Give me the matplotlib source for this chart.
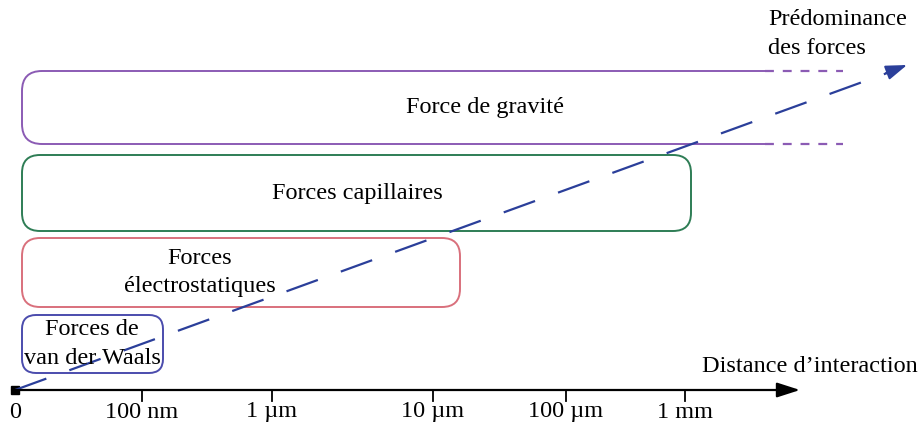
import matplotlib.pyplot as plt
from matplotlib.patches import FancyBboxPatch, Rectangle

plt.rcParams['font.family'] = ['Liberation Serif', 'DejaVu Serif']

# Axe des distances (positions en pixels sur le schéma)
tick_labels = ['0', '100 nm', '1 µm', '10 µm', '100 µm', '1 mm']
tick_pos = [15, 142, 272, 433, 566, 685]

# Domaines des forces
forces = ['Forces de\nvan der Waals', 'Forces\nélectrostatiques',
          'Forces capillaires', 'Force de gravité']
x_debut = [22, 22, 22, 22]
x_fin = [163, 460, 691, 765]
y_bas = [56, 122, 198, 285]
y_haut = [114, 191, 274, 358]
texte_x = [92, 200, 357, 485]
couleurs = ['#4b4cad', '#d9707c', '#2e7d55', '#8b5bb4']
arrondi = [14, 18, 18, 20]

fs = 17.5

fig = plt.figure(figsize=(9.2, 4.29), dpi=100)
ax = fig.add_axes([0, 0, 1, 1])
ax.set_xlim(0, 920)
ax.set_ylim(0, 429)
ax.axis('off')

for i in range(len(forces)):
    largeur = x_fin[i] - x_debut[i]
    if i == 3:
        largeur += 60  # ouvert à droite
    box = FancyBboxPatch((x_debut[i], y_bas[i]), largeur, y_haut[i] - y_bas[i],
                         boxstyle='round,pad=0,rounding_size=%d' % arrondi[i],
                         fc='none', ec=couleurs[i], lw=1.4)
    ax.add_patch(box)
    if i == 3:
        clip = Rectangle((0, 0), x_fin[i], 429, transform=ax.transData)
        box.set_clip_path(clip)
        for y in (y_bas[i], y_haut[i]):
            ax.plot([x_fin[i], 843], [y, y], color=couleurs[i], lw=1.6,
                    ls=(0, (4, 4)))
    ax.text(texte_x[i], (y_bas[i] + y_haut[i]) / 2, forces[i], ha='center',
            va='center', fontsize=fs, linespacing=1.45)

# Axe horizontal
y_axe = 39
ax.annotate('', xy=(800, y_axe), xytext=(12, y_axe),
            arrowprops=dict(arrowstyle='-|>,head_length=1.4,head_width=0.45',
                            color='black', lw=1.6, shrinkA=0, shrinkB=0))
ax.plot([15], [y_axe], marker='s', color='black', ms=6)
for p, lab in zip(tick_pos, tick_labels):
    if p != tick_pos[0]:
        ax.plot([p, p], [y_axe, y_axe - 11], color='black', lw=1.3)
    ax.text(p, y_axe - 22, lab, ha='center', va='center', fontsize=fs)
ax.text(918, 62, 'Distance d\u2019interaction', ha='right', va='center', fontsize=fs)

# Flèche de prédominance
ax.plot([15, 890], [y_axe, 357], color='#2b3f9a', lw=1.6, ls=(0, (15, 11)))
ax.annotate('', xy=(907, 364), xytext=(886, 356),
            arrowprops=dict(arrowstyle='-|>,head_length=1.3,head_width=0.45',
                            color='#2b3f9a', lw=1.4, shrinkA=0, shrinkB=0))
ax.text(768, 395, 'Prédominance\ndes forces', ha='left', va='center',
        fontsize=fs, linespacing=1.45)

plt.savefig('out.png', dpi=100)
